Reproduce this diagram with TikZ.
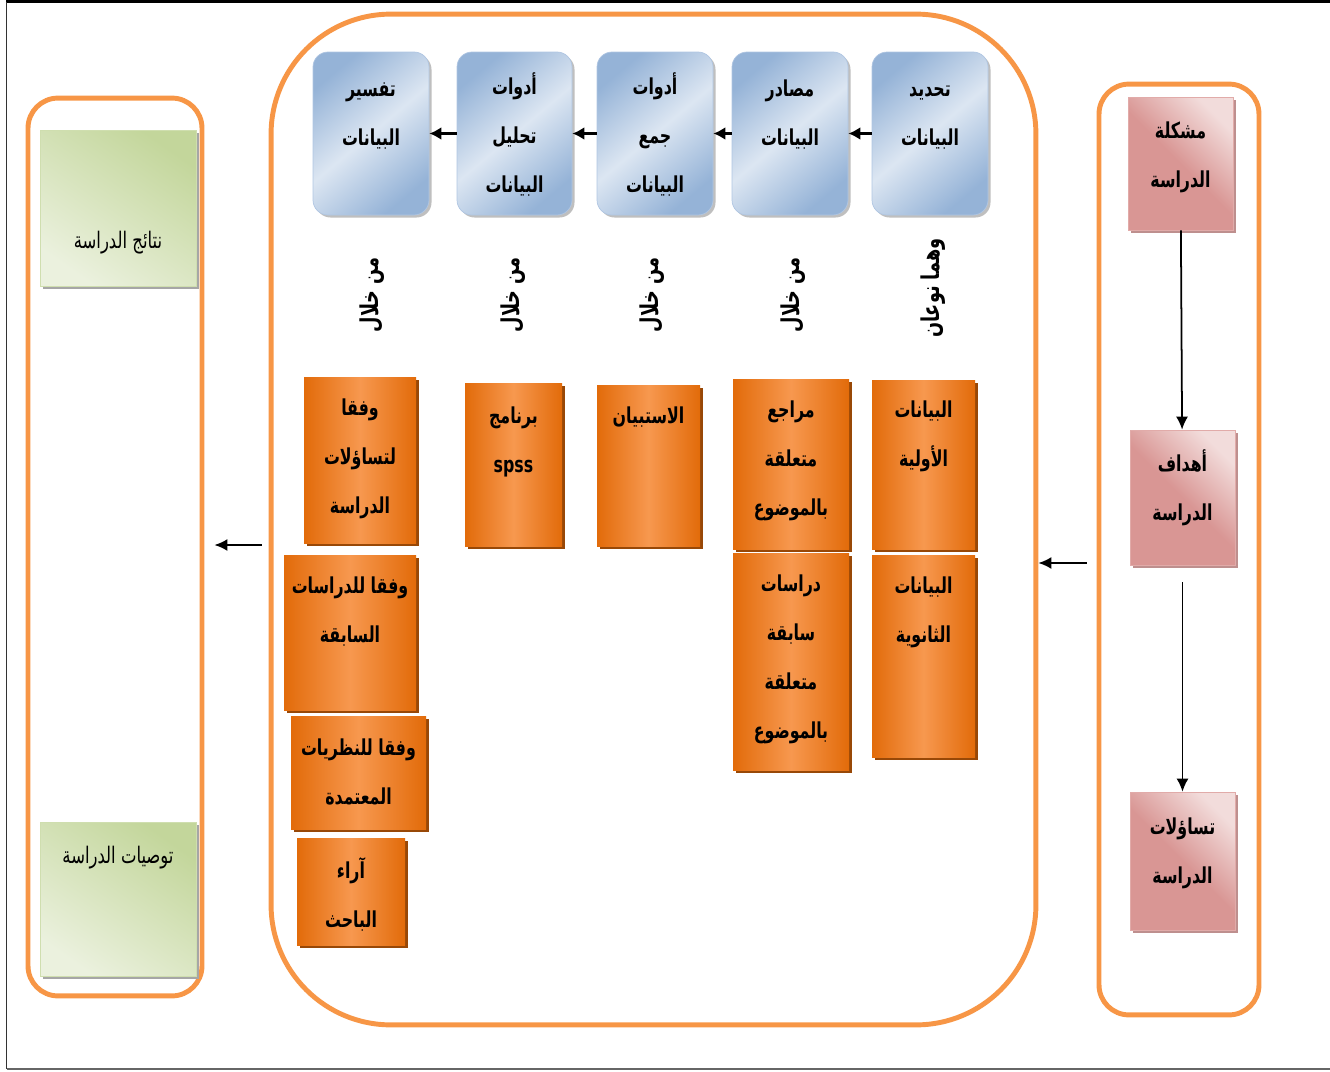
\documentclass[tikz,border=0pt]{standalone}
\usepackage{fontspec}
\usetikzlibrary{arrows.meta,shadows}
\TeXXeTstate=1
\newfontfamily\arabicfont[Script=Arabic,FakeStretch=0.72]{DejaVu Sans}
\newcommand\arl[1]{\beginR#1\endR}
\newdimen\pxu \pxu=0.02cm
% box text: width, height, first baseline (px), lines
\newcommand\boxtxt[4]{\parbox[c][#2\pxu][t]{#1\pxu}{\centering\rule{0pt}{#3\pxu}#4\par}}

\definecolor{frameor}{HTML}{F79646}
\definecolor{orgD}{HTML}{E26B0A}
\definecolor{orgL}{HTML}{F7984F}
\definecolor{orgS}{HTML}{984807}
\definecolor{blueD}{HTML}{95B3D7}
\definecolor{blueL}{HTML}{DCE6F2}
\definecolor{blueE}{HTML}{B0C6E2}
\definecolor{pinkD}{HTML}{D99694}
\definecolor{pinkL}{HTML}{F2DCDB}
\definecolor{greenD}{HTML}{C3D69B}
\definecolor{greenL}{HTML}{EBF1DE}

\tikzset{
  grp/.style={draw=frameor, line width=2.8pt},
  stepbox/.style={inner sep=0pt, rounded corners=0.3cm, draw=blueE,
    top color=blueD, bottom color=blueD, middle color=blueL, shading angle=40,
    drop shadow={shadow xshift=0.05cm, shadow yshift=-0.05cm, fill=gray!50, opacity=1}},
  itembox/.style={inner sep=0pt, left color=orgD, right color=orgD, middle color=orgL,
    drop shadow={shadow xshift=0.06cm, shadow yshift=-0.06cm, fill=orgS, opacity=1}},
  aimbox/.style={inner sep=0pt, draw=pinkD!80!white,
    top color=pinkL, bottom color=pinkD, middle color=pinkD, shading angle=-45,
    drop shadow={shadow xshift=0.06cm, shadow yshift=-0.06cm, fill=pinkD!70!gray, opacity=1}},
  endbox/.style={inner sep=0pt, draw=greenD!80!white,
    top color=greenD, bottom color=greenL, shading angle=-35,
    drop shadow={shadow xshift=0.06cm, shadow yshift=-0.06cm, fill=gray!70, opacity=1},
    font=\arabicfont\fontsize{13}{26}\selectfont},
  via/.style={rotate=90, font=\arabicfont\bfseries\fontsize{14}{28}\selectfont},
  arr/.style={-{Latex[length=0.26cm,width=0.24cm]}, line width=1pt},
  fatarr/.style={-{Latex[length=0.24cm,width=0.26cm]}, line width=1.8pt},
}

\begin{document}
\begin{tikzpicture}[x=0.02cm, y=-0.02cm, font=\arabicfont\bfseries\fontsize{12.5}{28}\selectfont]
\useasboundingbox (0,0) rectangle (1330,1072);

% page border
\draw[line width=1.7pt] (6,1.5) -- (1330,1.5);
\draw[line width=1.1pt, black!80] (6.5,1.5) -- (6.5,1069);
\draw[line width=1.1pt, black!60] (6.5,1069) -- (1330,1069);

% groups
\node[grp, rounded corners=0.6cm, minimum width=3.48cm, minimum height=17.96cm] (leftgrp) at (115,547) {};
\node[grp, rounded corners=2.4cm, minimum width=15.3cm, minimum height=20.22cm] (midgrp) at (653.5,519.5) {};
\node[grp, rounded corners=0.6cm, minimum width=3.2cm, minimum height=18.62cm] (rightgrp) at (1179,549.5) {};

% study questions
\node[aimbox] (problem) at (1180.5,163.5) {\boxtxt{105}{133}{41}{\arl{مشكلة}\\\arl{الدراسة}}};
\node[aimbox] (aims) at (1182.5,497.5) {\boxtxt{105}{135}{41}{\arl{أهداف}\\\arl{الدراسة}}};
\node[aimbox] (questions) at (1182.5,861) {\boxtxt{105}{138}{42}{\arl{تساؤلات}\\\arl{الدراسة}}};
\draw[arr] (problem) -- (aims);
\draw[arr] ([shift={(0,17)}]aims.south) -- (questions);

% data steps
\node[stepbox] (identify) at (930,133.5) {\boxtxt{116}{163}{44}{\arl{تحديد}\\\arl{البيانات}}};
\node[stepbox] (sources) at (790,133.5) {\boxtxt{116}{163}{44}{\arl{مصادر}\\\arl{البيانات}}};
\node[stepbox] (collect) at (655,133.5) {\boxtxt{116}{163}{42}{\arl{أدوات}\\\arl{جمع}\\\arl{البيانات}}};
\node[stepbox] (analyse) at (514.5,133.5) {\boxtxt{115}{163}{42}{\arl{أدوات}\\\arl{تحليل}\\\arl{البيانات}}};
\node[stepbox] (interpret) at (371,133.5) {\boxtxt{116}{163}{44}{\arl{تفسير}\\\arl{البيانات}}};
\draw[fatarr] (identify) -- (sources);
\draw[fatarr] (sources) -- (collect);
\draw[fatarr] (collect) -- (analyse);
\draw[fatarr] (analyse) -- (interpret);

\node[via] (via1) at (933,288) {\arl{وهما نوعان}};
\node[via] (via2) at (793,295) {\arl{من خلال}};
\node[via] (via3) at (652,295) {\arl{من خلال}};
\node[via] (via4) at (513,295) {\arl{من خلال}};
\node[via] (via5) at (372,295) {\arl{من خلال}};

% items
\node[itembox] (primary) at (923.5,464.5) {\boxtxt{103}{169}{37}{\arl{البيانات}\\\arl{الأولية}}};
\node[itembox] (secondary) at (923.5,656) {\boxtxt{103}{202}{38}{\arl{البيانات}\\\arl{الثانوية}}};
\node[itembox] (refs) at (791,464) {\boxtxt{116}{170}{38}{\arl{مراجع}\\\arl{متعلقة}\\\arl{بالموضوع}}};
\node[itembox] (studies) at (791,661.5) {\boxtxt{116}{217}{38}{\arl{دراسات}\\\arl{سابقة}\\\arl{متعلقة}\\\arl{بالموضوع}}};
\node[itembox] (survey) at (648.5,465.5) {\boxtxt{103}{161}{38}{\arl{الاستبيان}}};
\node[itembox] (spss) at (513.5,464.5) {\boxtxt{97}{163}{40}{\arl{برنامج}\\spss}};
\node[itembox] (byquest) at (360,460) {\boxtxt{112}{166}{38}{\arl{وفقا}\\\arl{لتساؤلات}\\\arl{الدراسة}}};
\node[itembox] (byprev) at (350,632.5) {\boxtxt{132}{155}{38}{\arl{وفقا للدراسات}\\\arl{السابقة}}};
\node[itembox] (bytheory) at (358.5,772.5) {\boxtxt{135}{113}{39}{\arl{وفقا للنظريات}\\\arl{المعتمدة}}};
\node[itembox] (opinion) at (351,891.5) {\boxtxt{108}{107}{40}{\arl{آراء}\\\arl{الباحث}}};

% outcomes
\node[endbox] (results) at (118,208) {\boxtxt{156}{156}{118}{\arl{نتائج الدراسة}}};
\node[endbox] (recs) at (118,899) {\boxtxt{156}{154}{41}{\arl{توصيات الدراسة}}};

% links between groups
\coordinate (inarr) at ([shift={(-10,13.5)}]rightgrp.west);
\draw[arr] (inarr) -- (inarr -| midgrp.east);
\coordinate (outarr) at ([shift={(-7,25.5)}]midgrp.west);
\draw[arr] (outarr) -- ([shift={(10,0)}]outarr -| leftgrp.east);
\end{tikzpicture}
\end{document}
